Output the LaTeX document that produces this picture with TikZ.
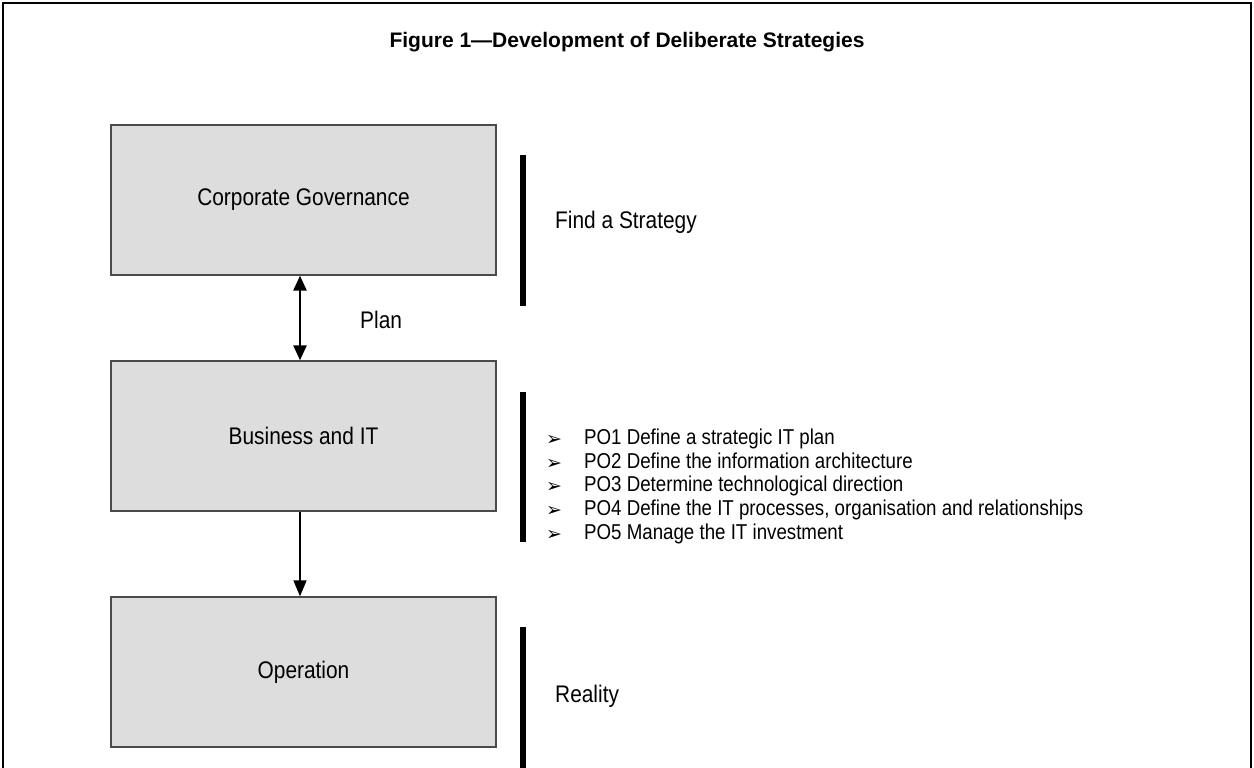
\documentclass[tikz,border=0pt]{standalone}
\usepackage{fontspec}
\setmainfont{Liberation Sans}
\newfontfamily\narrowfont[FakeStretch=0.87]{Liberation Sans}
\newfontfamily\dejavu{DejaVu Sans}
\usetikzlibrary{arrows.meta}
\definecolor{boxfill}{HTML}{DDDDDD}
\definecolor{boxline}{HTML}{4A4A4A}
\tikzset{
  stage/.style={draw=boxline, line width=1.3pt, fill=boxfill, minimum width=385pt,
    minimum height=150pt, inner sep=0pt, font=\narrowfont\fontsize{24}{28}\selectfont},
  sidebar/.style={line width=6pt, draw=black},
  sidelabel/.style={anchor=base west, inner sep=0pt, font=\narrowfont\fontsize{24}{28}\selectfont},
  item/.style={anchor=base west, inner sep=0pt, font=\narrowfont\fontsize{21.5}{24}\selectfont},
  dblarrow/.style={line width=2.6pt, {Triangle[width=13pt,length=15pt]}-{Triangle[width=13pt,length=15pt]}},
  onearrow/.style={line width=1.6pt, -{Triangle[width=13pt,length=16pt]}},
  frameline/.style={line width=2.5pt, draw=black}
}
\newcommand{\bulletmark}{\makebox[38pt][l]{\dejavu\fontsize{19}{19}\selectfont\raisebox{-1pt}{➢}}}
\begin{document}
\begin{tikzpicture}[x=1pt,y=-1pt]
\useasboundingbox (0,0) rectangle (1254,768);
\fill[white] (0,0) rectangle (1254,768);
\draw[frameline] (3,768) -- (3,3) -- (1251,3) -- (1251,768);

\node[anchor=base, inner sep=0pt, font=\bfseries\fontsize{21}{25}\selectfont] (title) at (627,47.5)
  {Figure 1—Development of Deliberate Strategies};

\node[stage] (gov) at (303.5,200) {Corporate Governance};
\node[stage] (bit) at (303.5,436) {Business and IT};
\node[stage] (ops) at (303.5,672) {Operation};

\draw[dblarrow] ([xshift=-3.5pt]gov.south) -- ([xshift=-3.5pt]bit.north);
\draw[onearrow] ([xshift=-3.5pt]bit.south) -- ([xshift=-3.5pt]ops.north);
\node[sidelabel] (plan) at (360,328) {Plan};

\draw[sidebar] (523,155) -- (523,306);
\draw[sidebar] (523,392) -- (523,542);
\draw[sidebar] (523,627) -- (523,768);

\node[sidelabel] (find) at (555,228) {Find a Strategy};
\node[sidelabel] (real) at (555,702) {Reality};

\node[item] (po1) at (546,444.5) {\bulletmark PO1 Define a strategic IT plan};
\node[item] (po2) at (546,468) {\bulletmark PO2 Define the information architecture};
\node[item] (po3) at (546,491.5) {\bulletmark PO3 Determine technological direction};
\node[item] (po4) at (546,515) {\bulletmark PO4 Define the IT processes, organisation and relationships};
\node[item] (po5) at (546,539) {\bulletmark PO5 Manage the IT investment};
\end{tikzpicture}
\end{document}
